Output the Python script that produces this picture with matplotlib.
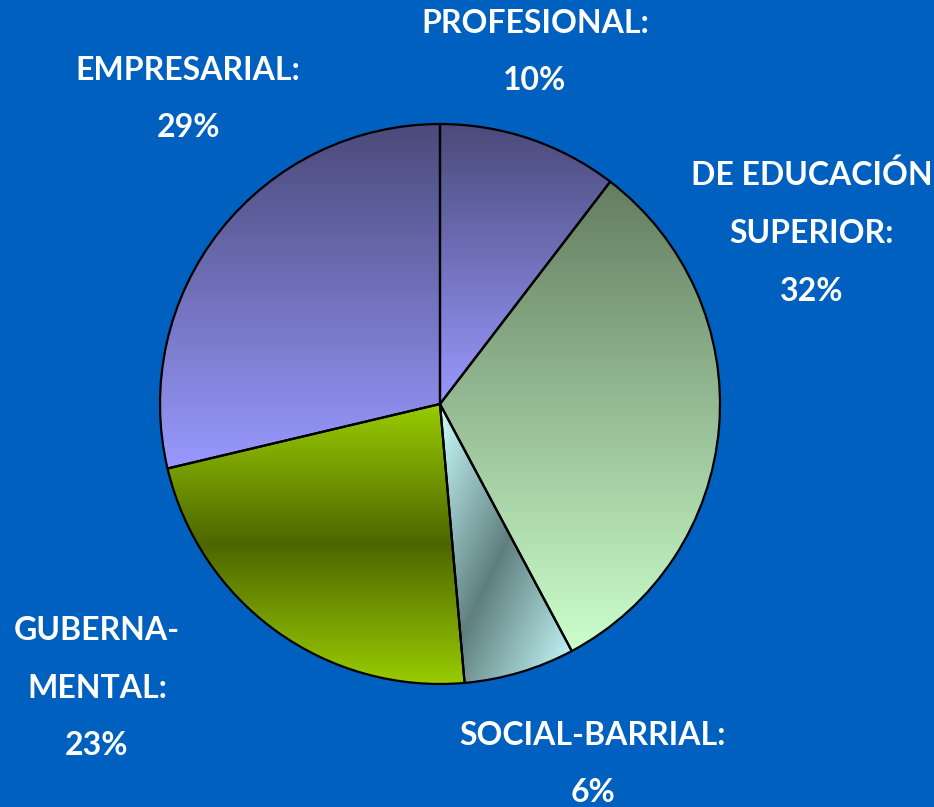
import numpy as np
import matplotlib
matplotlib.use("Agg")
import matplotlib.pyplot as plt
from matplotlib.colors import LinearSegmentedColormap

# ---- data ----
categories = ["PROFESIONAL:", "DE EDUCACIÓN\nSUPERIOR:", "SOCIAL-BARRIAL:", "GUBERNA-\nMENTAL:", "EMPRESARIAL:"]
values = [10.4, 31.8, 6.4, 22.7, 28.7]

# ---- style ----
BG = "#0060BF"
gradients = [
    ("v", ["#4A4A7A", "#9999FF"]),
    ("v", ["#637D60", "#CCFFCC"]),
    ("d", ["#CCFFFF", "#5F7F7F", "#CCFFFF"]),
    ("v", ["#99CC00", "#4D6600", "#99CC00"]),
    ("v", ["#4A4A7A", "#9999FF"]),
]
# label block centres in pixel coordinates (x, y from top)
label_pos = [(535, 52), (812, 233), (593, 764), (97, 688), (188, 99)]

W, H = 934, 807
fig = plt.figure(figsize=(W / 100, H / 100), dpi=100)
fig.patch.set_facecolor(BG)
ax = fig.add_axes([0, 0, 1, 1])
ax.set_facecolor(BG)

wedges, _ = ax.pie(values, startangle=90, counterclock=False,
                   center=(440, H - 404), radius=280,
                   wedgeprops=dict(linewidth=1.6, edgecolor="black"))
ax.set_xlim(0, W)
ax.set_ylim(0, H)
ax.set_aspect("equal")
ax.axis("off")

for w, (kind, cols) in zip(wedges, gradients):
    bb = w.get_path().get_extents(w.get_transform() - ax.transData)
    x0, y0, x1, y1 = bb.x0, bb.y0, bb.x1, bb.y1
    cmap = LinearSegmentedColormap.from_list("g", cols)
    n = 256
    if kind == "v":
        t = np.linspace(0, 1, n)[:, None] * np.ones((1, 4))
    else:
        yy, xx = np.mgrid[0:1:n * 1j, 0:1:n * 1j]
        t = (xx + yy) / 2
    img = ax.imshow(t, cmap=cmap, vmin=0, vmax=1, origin="upper",
                    extent=(x0, x1, y0, y1), aspect="auto", zorder=1,
                    interpolation="bilinear")
    img.set_clip_path(w)
    w.set_facecolor("none")
    w.set_zorder(3)

ax.set_xlim(0, W)
ax.set_ylim(0, H)

for lab, v, (px, py) in zip(categories, values, label_pos):
    ax.text(px, H - py, f"{lab}\n{v:.0f}%", ha="center", va="center",
            multialignment="center", color="white", fontsize=23,
            fontweight="bold", family=["Lato", "DejaVu Sans"],
            linespacing=2.2, zorder=5)

fig.savefig("out.png", dpi=100, facecolor=BG)
